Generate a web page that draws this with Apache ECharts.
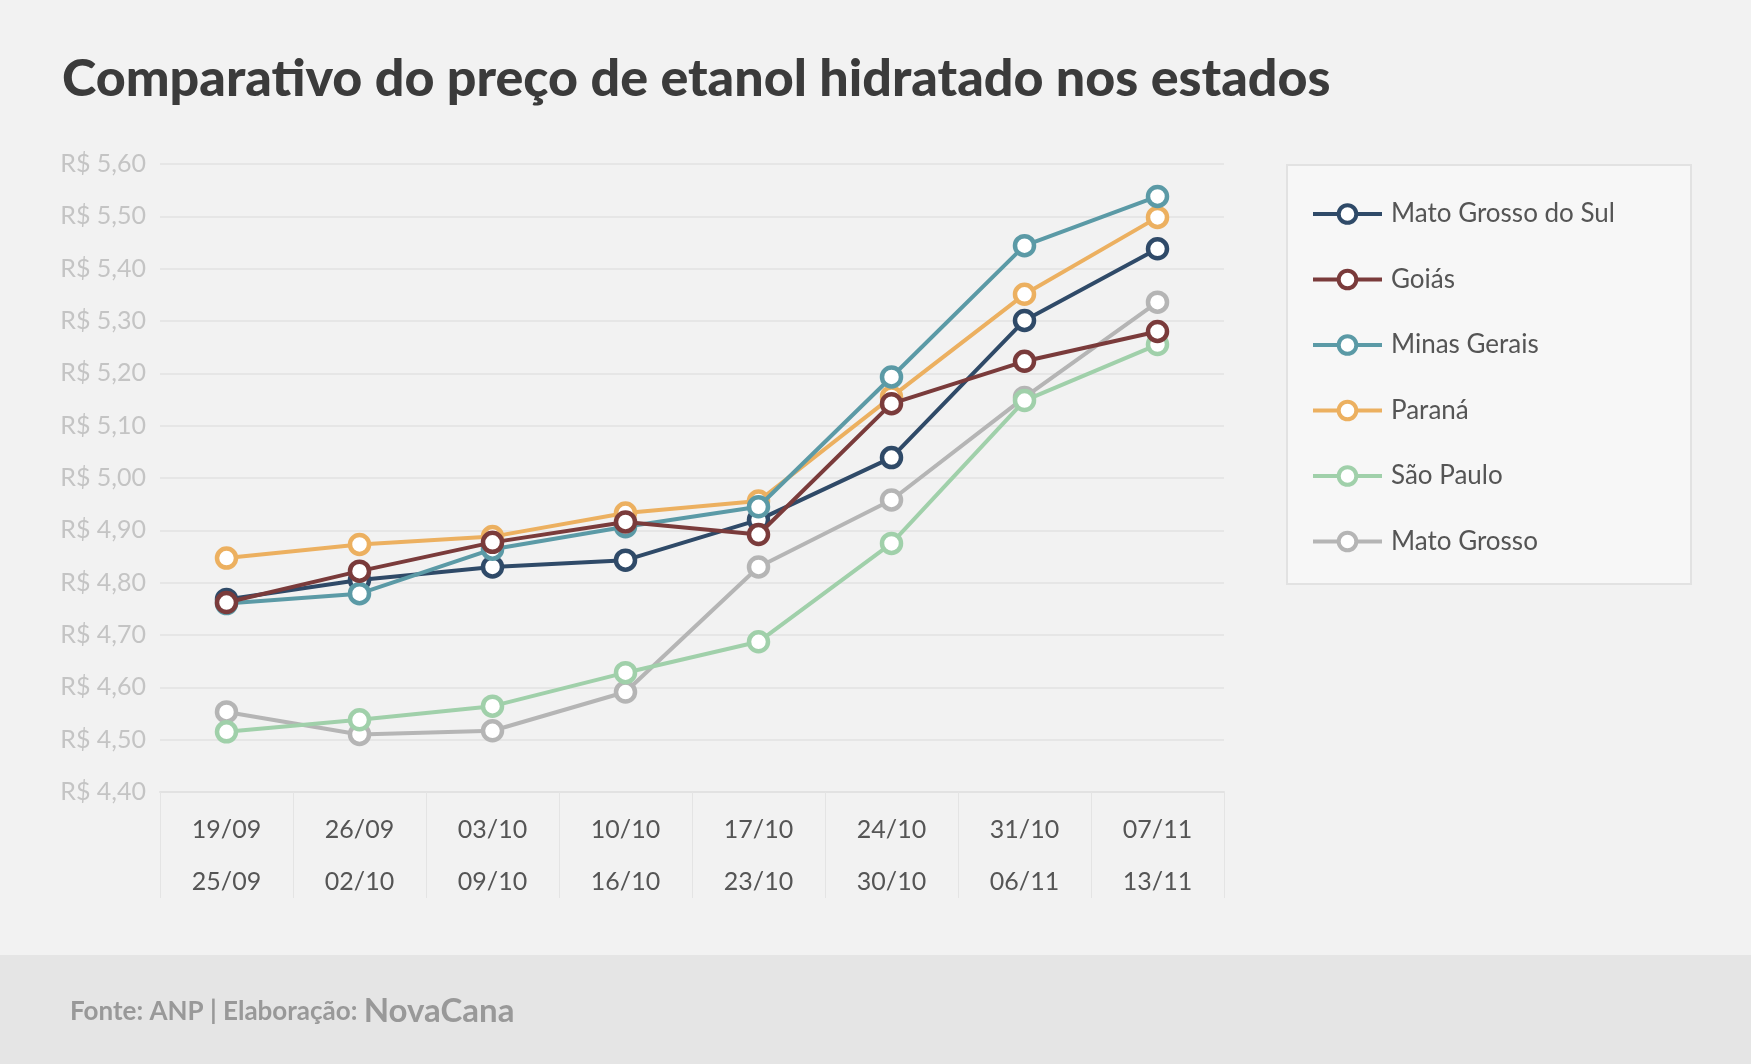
<!DOCTYPE html>
<html>
<head>
<meta charset="utf-8">
<script src="https://cdn.jsdelivr.net/npm/echarts@6/dist/echarts.min.js"></script>
<style>
html,body{margin:0;padding:0;background:#f2f2f2;}
#chart{width:1751px;height:1064px;}
</style>
</head>
<body>
<div id="chart"></div>
<script>
const categories = ['19/09\n25/09','26/09\n02/10','03/10\n09/10','10/10\n16/10','17/10\n23/10','24/10\n30/10','31/10\n06/11','07/11\n13/11'];
const seriesNames = ['Mato Grosso do Sul','Goiás','Minas Gerais','Paraná','São Paulo','Mato Grosso'];
const matoGrossoDoSul = [4.768, 4.805, 4.830, 4.843, 4.920, 5.039, 5.301, 5.438];
const goias = [4.762, 4.822, 4.877, 4.916, 4.892, 5.142, 5.223, 5.280];
const minasGerais = [4.760, 4.779, 4.864, 4.907, 4.945, 5.193, 5.444, 5.538];
const parana = [4.847, 4.873, 4.888, 4.933, 4.956, 5.155, 5.351, 5.498];
const saoPaulo = [4.515, 4.538, 4.564, 4.628, 4.687, 4.875, 5.148, 5.255];
const matoGrosso = [4.553, 4.510, 4.517, 4.591, 4.830, 4.958, 5.154, 5.336];
const yTicks = [4.4, 5.6, 0.1];

const values = [matoGrossoDoSul, goias, minasGerais, parana, saoPaulo, matoGrosso];
const colors = ['#2f4a68', '#7a3b3b', '#5b9aa6', '#ecb060', '#a0d0aa', '#b5b5b5'];
const zs = [4, 7, 5, 3, 6, 2];
const FONT = 'Lato, "Open Sans", sans-serif';

const chart = echarts.init(document.getElementById('chart'), null, {renderer: 'canvas'});
chart.setOption({
  backgroundColor: '#f2f2f2',
  animation: false,
  title: {
    text: 'Comparativo do preço de etanol hidratado nos estados',
    left: 57, top: 48,
    textStyle: {fontFamily: FONT, fontSize: 52, fontWeight: 900, color: '#3b3b3b'}
  },
  graphic: [
    {type: 'rect', left: 1286, top: 164, shape: {width: 404, height: 419}, style: {fill: '#f7f7f7', stroke: '#e2e2e2', lineWidth: 2}, z: 0},
    {type: 'rect', left: 0, top: 955, shape: {width: 1751, height: 109}, style: {fill: '#e5e5e5'}, z: 0},
    {type: 'text', left: 70, top: 995, z: 10, style: {
      text: '{a|Fonte: ANP | Elaboração: }{b|NovaCana}',
      rich: {
        a: {fontFamily: FONT, fontSize: 26, fontWeight: 'bold', fill: '#999999'},
        b: {fontFamily: FONT, fontSize: 33, fontWeight: 'bold', fill: '#999999'}
      }
    }}
  ],
  legend: {
    orient: 'vertical',
    left: 1306, top: 196,
    itemWidth: 69, itemHeight: 22, itemGap: 39.5,
    data: seriesNames,
    lineStyle: {width: 4},
    itemStyle: {borderWidth: 4},
    textStyle: {fontFamily: FONT, fontSize: 26, color: '#555555', padding: [0,0,0,4]}
  },
  grid: {left: 160, right: 527, top: 164, bottom: 272, containLabel: false},
  xAxis: {
    type: 'category',
    data: categories,
    boundaryGap: true,
    axisLine: {show: true, lineStyle: {color: '#e2e2e2', width: 2}},
    axisTick: {show: true, interval: 0, length: 106, lineStyle: {color: '#e4e4e4', width: 1}},
    axisLabel: {interval: 0, margin: 12, fontFamily: FONT, fontSize: 25, color: '#555555', lineHeight: 52}
  },
  yAxis: {
    type: 'value',
    min: yTicks[0], max: yTicks[1], interval: yTicks[2],
    axisLine: {show: false},
    axisTick: {show: false},
    splitLine: {lineStyle: {color: '#e2e2e2', width: 1.5}},
    axisLabel: {margin: 14, fontFamily: FONT, fontSize: 25, color: '#c4c4c4',
      formatter: v => 'R$ ' + v.toFixed(2).replace('.', ',')}
  },
  series: seriesNames.map((name, i) => ({
    name: name,
    type: 'line',
    data: values[i],
    z: zs[i],
    symbol: 'circle',
    symbolSize: 19,
    showAllSymbol: true,
    lineStyle: {color: colors[i], width: 4},
    itemStyle: {color: '#ffffff', borderColor: colors[i], borderWidth: 4.5},
    emphasis: {disabled: true}
  }))
});
</script>
</body>
</html>
